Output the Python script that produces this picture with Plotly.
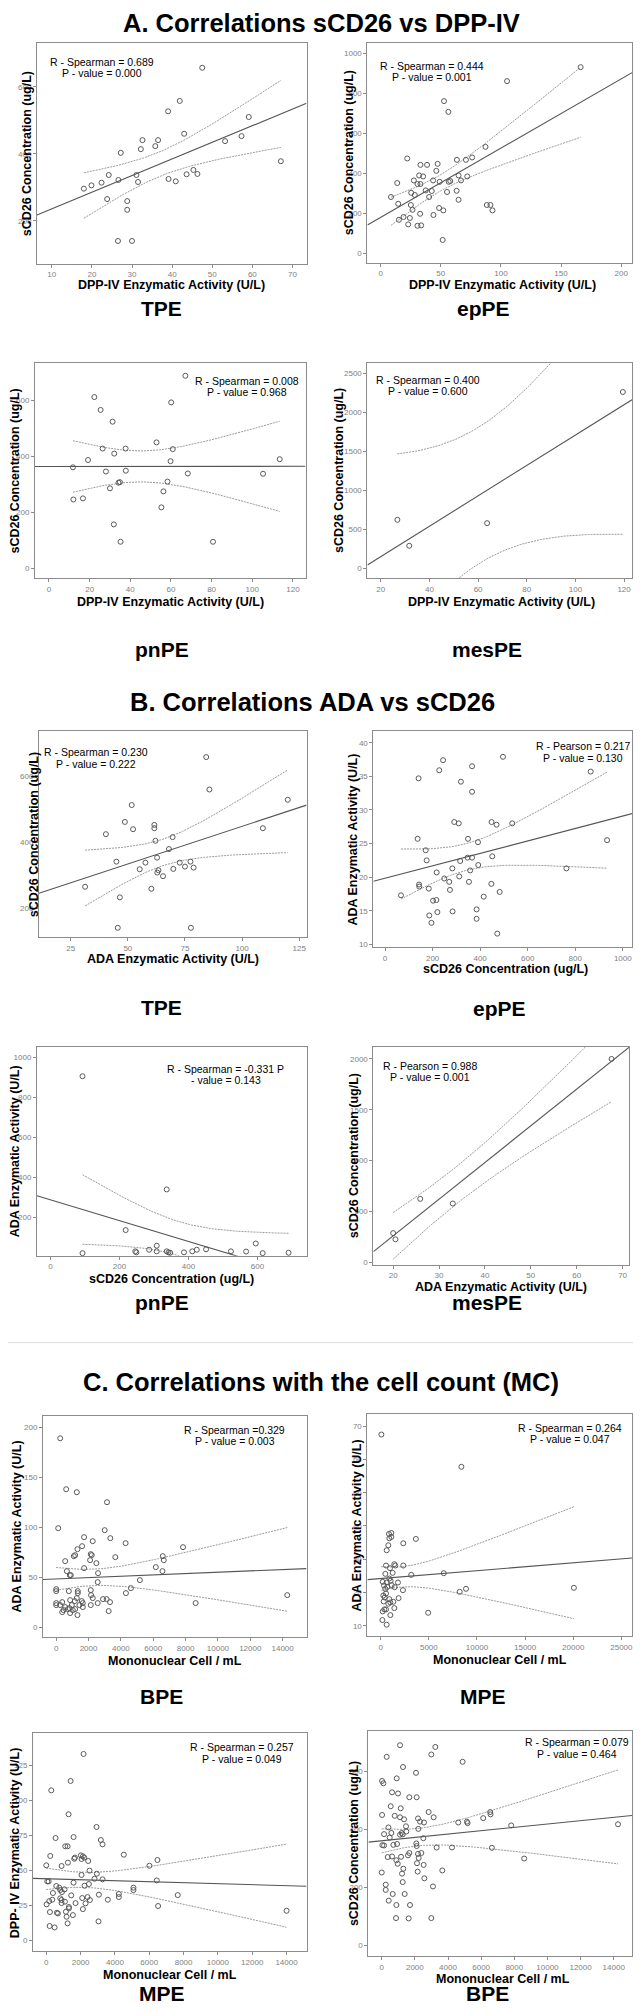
import math
import numpy as np
import plotly.graph_objects as go

PAGE_W, PAGE_H = 642, 2016     # page size in pixels
MARGIN = 8                     # default body margin of the html page
W, H = PAGE_W - 2 * MARGIN, PAGE_H - 2 * MARGIN   # figure size (no scrollbars)
RIGHT_MAX = 633                # last drawable page column

# ---------------- DATA ----------------
# A. sCD26 vs DPP-IV
tpe_dpp = [47.5, 41.9, 39.0, 59.1, 43.0, 53.2, 57.3, 32.6, 36.5, 32.2, 35.8, 27.2, 67.1, 24.2, 31.1,
           26.6, 31.5, 39.1, 40.9, 43.6, 45.3, 46.3, 18.0, 19.9, 22.4, 23.8, 28.8, 28.8, 26.5, 30.0]
tpe_scd26 = [657, 558, 527, 510, 460, 438, 453, 441, 441, 414, 423, 403, 378, 337, 337,
             322, 316, 325, 318, 339, 352, 340, 296, 306, 314, 265, 259, 233, 140, 140]

eppe_dpp = [166.3, 105.1, 52.7, 56.3, 87.2, 22.1, 63.4, 70.9, 76.1, 33.1, 38.6, 47.4, 46.3, 32.0, 35.3,
            72.0, 64.8, 27.6, 13.8, 43.6, 30.6, 33.1, 49.1, 56.6, 57.9, 66.8, 37.5, 42.5, 55.2, 63.2,
            8.6, 25.4, 28.4, 40.3, 64.8, 14.6, 25.1, 26.5, 48.6, 52.1, 32.8, 43.9, 88.3, 91.3, 93.0,
            19.0, 24.3, 15.2, 22.9, 30.6, 33.7, 51.6]
eppe_scd26 = [932, 862, 762, 708, 533, 475, 468, 468, 480, 443, 443, 448, 413, 390, 385,
              385, 390, 365, 352, 365, 347, 347, 358, 358, 362, 365, 315, 312, 307, 313,
              282, 303, 292, 282, 268, 248, 242, 218, 227, 215, 198, 192, 242, 242, 215,
              182, 177, 168, 145, 138, 140, 67]

pnpe_dpp = [67.1, 22.3, 25.4, 60.1, 31.3, 52.9, 26.4, 37.7, 60.9, 32.1, 19.2, 59.8, 113.5, 11.8, 28.0,
            37.8, 68.3, 105.3, 34.2, 34.9, 58.3, 30.0, 56.3, 12.0, 16.7, 55.3, 31.9, 35.2, 80.7]
pnpe_scd26 = [688, 612, 566, 593, 524, 450, 428, 428, 426, 410, 387, 383, 390, 361, 346,
              349, 339, 338, 306, 308, 310, 286, 275, 246, 250, 218, 157, 95, 95]

mespe_dpp = [26.8, 31.7, 63.7, 119.5]
mespe_scd26 = [623, 290, 580, 2261]

# B. ADA vs sCD26
tpe_ada = [84.3, 85.7, 120.0, 51.7, 48.7, 52.3, 61.6, 61.6, 40.4, 69.6, 109.1, 62.1, 68.0, 62.8, 45.0,
           57.7, 72.7, 77.4, 75.0, 78.8, 55.2, 69.9, 63.4, 62.9, 65.4, 31.3, 60.3, 46.5, 45.6, 77.6]
tpe_scd26_b = [657, 559, 528, 512, 461, 439, 452, 442, 424, 415, 442, 404, 379, 353, 341,
               338, 338, 341, 326, 323, 318, 319, 315, 308, 297, 265, 259, 233, 141, 141]

eppe_scd26_b = [496, 244, 228, 366, 141, 865, 319, 366, 291, 310, 448, 469, 535, 137, 349,
                391, 934, 171, 175, 347, 366, 316, 451, 392, 217, 283, 358, 312, 763, 249,
                270, 353, 143, 144, 184, 273, 447, 482, 67, 415, 202, 216, 220, 284, 385,
                186, 195, 385, 472]
eppe_ada = [37.9, 37.4, 35.9, 36.5, 34.7, 35.7, 34.2, 32.7, 28.2, 28.0, 28.2, 27.8, 28.0, 25.7, 25.7,
            25.2, 25.5, 24.0, 22.5, 22.9, 22.9, 22.4, 23.1, 21.8, 20.7, 21.3, 21.0, 20.1, 21.3, 19.8,
            19.3, 19.3, 18.9, 18.6, 18.3, 18.1, 19.0, 17.8, 17.3, 17.1, 16.5, 16.6, 14.8, 14.9, 15.2,
            14.3, 13.2, 13.8, 11.6]

pnpe_scd26_b = [93, 93, 337, 218, 308, 595, 246, 249, 286, 308, 337, 342, 347, 387, 411,
                424, 451, 523, 567, 615, 690]
pnpe_ada = [905, 22, 340, 137, 59, 70, 31, 26, 39, 31, 31, 26, 24, 26, 31,
            39, 41, 31, 30, 22, 24]

mespe_ada = [20.0, 20.5, 25.9, 33.0, 67.6]
mespe_scd26_b = [288, 227, 625, 579, 2000]

# C. Correlations with the mononuclear cell count
bpe_mc_ada = [246, 616, 1273, 123, 3141, 2997, 3346, 1724, 2258, 4291, 7842, 1601, 1314, 6590, 6652,
              2135, 2197, 1170, 1088, 3654, 2094, 554, 2484, 1724, 6159, 6570, 657, 2587, 903, 841,
              5174, 2566, 4619, 0, 0, 780, 1334, 1334, 2135, 4311, 14289, 2155, 2258, 2895, 3121,
              3326, 2566, 370, 862, 1273, 1581, 1642, 8622, 0, 0, 246, 554, 965, 1150, 1437,
              2135, 1642, 719, 821, 1027, 1170, 370, 862, 1314, 3244, 452]
bpe_ada = [189, 138, 135, 99, 125, 97, 89, 90, 86, 84, 80, 81, 78, 71, 67,
           73, 72, 72, 71, 70, 67, 66, 64, 59, 60, 56, 56, 54, 52, 52,
           47, 45, 39, 38, 36, 36, 36, 34, 37, 34, 32, 32, 29, 28, 28,
           25, 24, 25, 27, 29, 26, 24, 24, 24, 22, 22, 20, 22, 26, 22,
           22, 20, 18, 19, 17, 18, 15, 14, 12, 16, 17]

mpe_mc_ada = [69, 8379, 862, 1103, 1103, 897, 3655, 2345, 793, 621, 1414, 1517, 2345, 552, 966,
              1241, 483, 6552, 3172, 897, 1034, 207, 621, 1793, 1138, 690, 1448, 8862, 20069, 8207,
              2310, 552, 276, 414, 897, 1862, 1310, 793, 1000, 310, 1414, 379, 552, 207, 4931,
              1000, 172, 621, 345, 483]
mpe_ada = [67.5, 57.8, 37.6, 37.9, 36.7, 36.3, 36.1, 34.8, 34.2, 32.7, 28.5, 28.1, 28.1, 28.1, 27.3,
           25.9, 25.6, 25.8, 25.3, 24.2, 23.5, 23.2, 23.0, 23.0, 22.2, 21.7, 21.6, 21.1, 21.4, 20.2,
           20.7, 19.7, 19.1, 18.5, 18.0, 18.3, 17.2, 16.6, 17.0, 17.3, 15.3, 14.9, 14.9, 14.3, 13.9,
           13.2, 11.7, 10.3, 22.1, 21.1]

mpe_mc_dpp = [2172, 1416, 291, 1299, 2928, 543, 1590, 3180, 3277, 1105, 1241, 233, 4518, 2017, 2133,
              1668, 1629, 2055, 2211, 6477, 1260, 2443, 0, 6011, 892, 2521, 2947, 2055, 2812, 3277,
              6438, 58, 136, 1590, 2482, 2230, 582, 756, 5080, 1066, 814, 5080, 911, 388, 1454,
              7659, 3064, 4227, 4227, 2405, 3587, 2094, 2540, 814, 892, 349, 1086, 1706, 2288, 19,
              175, 892, 1319, 1319, 2133, 6515, 213, 621, 679, 1144, 1551, 1183, 14000, 3044, 1241,
              194, 485]
mpe_dpp = [133.3, 114.0, 107.3, 90.2, 81.1, 73.2, 73.9, 71.8, 68.7, 67.3, 67.3, 60.4, 61.3, 60.8, 60.1,
           59.2, 58.4, 58.2, 59.2, 57.5, 55.6, 56.8, 53.7, 53.4, 53.2, 49.9, 47.7, 46.8, 44.1, 43.7,
           42.9, 42.2, 42.2, 41.3, 40.3, 39.1, 38.9, 37.7, 37.7, 36.5, 36.0, 36.0, 34.6, 33.9, 32.2,
           32.4, 32.7, 33.2, 31.0, 31.0, 29.1, 30.3, 28.9, 30.1, 28.9, 29.1, 27.7, 26.7, 26.5, 25.8,
           28.1, 26.7, 23.9, 22.9, 22.4, 24.6, 20.3, 19.8, 19.3, 20.5, 18.1, 16.9, 21.2, 13.6, 12.2,
           10.3, 9.3]

bpe_mc_scd26 = [1105, 3234, 301, 2993, 4881, 1285, 20, 100, 2069, 904, 623, 984, 1667, 2109, 542,
                1145, 20, 783, 1105, 1346, 2832, 3133, 2310, 2551, 2189, 4619, 5141, 5182, 6126, 6547,
                6567, 1466, 7813, 14260, 402, 2209, 582, 1265, 1205, 141, 1486, 482, 2511, 40, 141,
                703, 924, 1105, 2089, 2109, 3314, 4238, 6648, 362, 623, 1165, 1667, 1587, 2189, 2390,
                2229, 884, 964, 2129, 2531, 8596, 1305, 3655, 2169, 2571, 1225, 1265, 0, 241, 241,
                663, 422, 3093, 1386, 1707, 884, 864, 1627, 2993]
bpe_scd26 = [689, 683, 649, 657, 632, 614, 566, 558, 594, 575, 527, 523, 510, 510, 479,
             472, 449, 446, 441, 434, 459, 441, 426, 423, 437, 423, 426, 421, 438, 459,
             451, 410, 413, 417, 406, 401, 387, 382, 387, 383, 392, 371, 369, 345, 344,
             346, 349, 381, 351, 342, 337, 337, 336, 304, 306, 305, 318, 310, 315, 318,
             301, 293, 281, 283, 277, 299, 264, 258, 254, 231, 247, 218, 251, 209, 191,
             177, 154, 203, 177, 139, 139, 94, 93, 94]

# ---------------- PANEL SETUP (page pixel positions) ----------------
LBL_DPP = "DPP-IV Enzymatic Activity (U/L)"
LBL_SCD = "sCD26 Concentration (ug/L)"
LBL_ADA = "ADA Enzymatic Activity (U/L)"
LBL_MC = "Mononuclear Cell / mL"

panels = [
    dict(x=tpe_dpp, y=tpe_scd26, box=(37, 307, 43, 264), xr=(6.3, 73.5), yr=(72, 731),
         xt=list(range(10, 71, 10)), yt=[200, 400, 600], xtitle=LBL_DPP, ytitle=LBL_SCD,
         ytx=27, xty=285, stat=("R - Spearman = 0.689", "P - value = 0.000"), sp=(102, 62)),
    dict(x=eppe_dpp, y=eppe_scd26, box=(368, 639, 43, 263), xr=(-11, 214), yr=(-47, 1053),
         xt=list(range(0, 201, 50)), yt=list(range(0, 1001, 200)), xtitle=LBL_DPP, ytitle=LBL_SCD,
         ytx=349, xty=285, stat=("R - Spearman = 0.444", "P - value = 0.001"), sp=(433, 66)),
    dict(x=pnpe_dpp, y=pnpe_scd26, box=(35, 306, 363, 579), xr=(-6.9, 126.2), yr=(-36, 735),
         xt=list(range(0, 121, 20)), yt=list(range(0, 601, 200)), xtitle=LBL_DPP, ytitle=LBL_SCD,
         ytx=15, xty=603, stat=("R - Spearman = 0.008", "P - value = 0.968"), sp=(247, 381)),
    dict(x=mespe_dpp, y=mespe_scd26, box=(368, 636, 363, 579), xr=(14.5, 124.5), yr=(-128, 2637),
         xt=list(range(20, 121, 20)), yt=list(range(0, 2501, 500)), xtitle=LBL_DPP, ytitle=LBL_SCD,
         ytx=339, xty=603, stat=("R - Spearman = 0.400", "P - value = 0.600"), sp=(429, 380)),
    dict(x=tpe_ada, y=tpe_scd26_b, box=(39, 307, 732, 938), xr=(11.1, 128.2), yr=(113, 735),
         xt=[25, 50, 75, 100, 125], yt=[200, 400, 600], xtitle=LBL_ADA, ytitle=LBL_SCD,
         ytx=34, xty=960, stat=("R - Spearman = 0.230", "P - value = 0.222"), sp=(96, 753)),
    dict(x=eppe_scd26_b, y=eppe_ada, box=(374, 639, 732, 948), xr=(-49, 1064), yr=(9.6, 41.7),
         xt=list(range(0, 1001, 200)), yt=list(range(10, 41, 5)), xtitle=LBL_SCD, ytitle=LBL_ADA,
         ytx=354, xty=970, stat=("R - Pearson = 0.217", "P - value = 0.130"), sp=(584, 747)),
    dict(x=pnpe_scd26_b, y=pnpe_ada, box=(37, 307, 1048, 1257), xr=(-39, 742), yr=(9, 1051),
         xt=list(range(0, 601, 200)), yt=list(range(0, 1001, 200)), xtitle=LBL_SCD, ytitle=LBL_ADA,
         ytx=15, xty=1280, stat=("R - Spearman = -0.331 P", "- value = 0.143"), sp=(226, 1070)),
    dict(x=mespe_ada, y=mespe_scd26_b, box=(374, 630, 1048, 1266), xr=(15.7, 71.4), yr=(-23, 2118),
         xt=list(range(20, 71, 10)), yt=list(range(0, 2001, 500)), xtitle=LBL_ADA, ytitle=LBL_SCD,
         ytx=354, xty=1288, stat=("R - Pearson = 0.988", "P - value = 0.001"), sp=(431, 1067)),
    dict(x=bpe_mc_ada, y=bpe_ada, box=(43, 307, 1417, 1639), xr=(-821, 15479), yr=(-10.3, 211.7),
         xt=list(range(0, 14001, 2000)), yt=list(range(0, 201, 50)), xtitle=LBL_MC, ytitle=LBL_ADA,
         ytx=17, xty=1663, stat=("R - Spearman =0.329", "P - value = 0.003"), sp=(235, 1431)),
    dict(x=mpe_mc_ada, y=mpe_ada, box=(368, 634, 1415, 1638), xr=(-1379, 26207), yr=(6.8, 73.8),
         xt=list(range(0, 25001, 5000)), yt=list(range(10, 71, 10)), xtitle=LBL_MC, ytitle=LBL_ADA,
         ytx=358, xty=1662, stat=("R - Spearman = 0.264", "P - value = 0.047"), sp=(571, 1429)),
    dict(x=mpe_mc_dpp, y=mpe_dpp, box=(33, 307, 1735, 1953), xr=(-776, 15164), yr=(-7.6, 148.1),
         xt=list(range(0, 14001, 2000)), yt=list(range(0, 126, 25)), xtitle=LBL_MC,
         ytitle="DPP- IV Enzymatic Activity (U/L)",
         ytx=15, xty=1977, stat=("R - Spearman = 0.257", "P - value = 0.049"), sp=(242, 1749)),
    dict(x=bpe_mc_scd26, y=bpe_scd26, box=(369, 639, 1733, 1958), xr=(-803, 15466), yr=(-36.6, 737),
         xt=list(range(0, 14001, 2000)), yt=list(range(0, 601, 200)), xtitle=LBL_MC, ytitle=LBL_SCD,
         ytx=354, xty=1981, stat=("R - Spearman = 0.079", "P - value = 0.464"), sp=(578, 1744)),
]

group_labels = [("TPE", 162, 309), ("epPE", 484, 309), ("pnPE", 162, 650), ("mesPE", 488, 650),
                ("TPE", 162, 1008), ("epPE", 500, 1010), ("pnPE", 162, 1304), ("mesPE", 488, 1304),
                ("BPE", 162, 1698), ("MPE", 484, 1698), ("MPE", 162, 1995), ("BPE", 488, 1995)]

# (text, centre x, y, anchor) - the first title sits at the top edge of the figure
section_titles = [("A. Correlations sCD26 vs DPP-IV", 322, 8, "top"),
                  ("B. Correlations ADA vs sCD26", 313, 703, "middle"),
                  ("C. Correlations with the cell count (MC)", 321, 1383, "middle")]


def fx(px):
    return (px - MARGIN) / W


def fy(py):
    return 1 - (py - MARGIN) / H


def t_ppf975(df):
    c = math.exp(math.lgamma((df + 1) / 2) - math.lgamma(df / 2)) / math.sqrt(df * math.pi)
    ts = np.linspace(0, 80, 400001)
    pdf = c * (1 + ts ** 2 / df) ** (-(df + 1) / 2)
    cdf = np.concatenate([[0], np.cumsum((pdf[1:] + pdf[:-1]) / 2 * np.diff(ts))])
    return float(np.interp(0.475, cdf, ts))


FONT = "Liberation Sans, Arial, sans-serif"
fig = go.Figure()
annotations = []
layout_axes = {}

for i, p in enumerate(panels, start=1):
    xs = np.asarray(p["x"], float)
    ys = np.asarray(p["y"], float)
    n = len(xs)
    slope, icpt = np.polyfit(xs, ys, 1)
    xm = xs.mean()
    sxx = ((xs - xm) ** 2).sum()
    s = math.sqrt(((ys - (icpt + slope * xs)) ** 2).sum() / (n - 2))
    tq = t_ppf975(n - 2)
    gx = np.linspace(xs.min(), xs.max(), 80)
    half = tq * s * np.sqrt(1.0 / n + (gx - xm) ** 2 / sxx)

    l, r, t, b = p["box"]
    x0, x1 = p["xr"]
    r_draw = min(r, RIGHT_MAX)
    x1_draw = x0 + (r_draw - l) * (x1 - x0) / (r - l)   # keep scale, trim what cannot be shown
    ex = np.array([x0, x1_draw])
    xa = "x" if i == 1 else f"x{i}"
    ya = "y" if i == 1 else f"y{i}"

    fig.add_trace(go.Scatter(x=ex, y=icpt + slope * ex, mode="lines", xaxis=xa, yaxis=ya,
                             line=dict(color="#555555", width=1.1), showlegend=False, hoverinfo="skip"))
    for sign in (1, -1):
        fig.add_trace(go.Scatter(x=gx, y=icpt + slope * gx + sign * half, mode="lines", xaxis=xa,
                                 yaxis=ya, line=dict(color="#9a9a9a", width=1, dash="2px,1px"),
                                 showlegend=False, hoverinfo="skip"))
    fig.add_trace(go.Scatter(x=xs, y=ys, mode="markers", xaxis=xa, yaxis=ya,
                             marker=dict(symbol="circle-open", size=5, color="#5a5a5a",
                                         line=dict(width=1, color="#5a5a5a")),
                             showlegend=False, cliponaxis=False))

    axcommon = dict(showline=True, mirror=True, linecolor="#8c8c8c", linewidth=1, ticks="outside",
                    ticklen=3, tickcolor="#8c8c8c", tickfont=dict(size=8, color="#808080", family=FONT),
                    showgrid=False, zeroline=False, fixedrange=True, tickformat="d",
                    ticklabeloverflow="allow")
    kx = "xaxis" if i == 1 else f"xaxis{i}"
    ky = "yaxis" if i == 1 else f"yaxis{i}"
    layout_axes[kx] = dict(domain=[fx(l), fx(r_draw)], range=[x0, x1_draw], tickvals=p["xt"],
                           anchor=ya, **axcommon)
    layout_axes[ky] = dict(domain=[fy(b), fy(t)], range=list(p["yr"]), tickvals=p["yt"],
                           anchor=xa, **axcommon)

    annotations.append(dict(text=f"<b>{p['xtitle']}</b>", x=fx((l + r) / 2), y=fy(p["xty"]),
                            xref="paper", yref="paper", showarrow=False, xanchor="center",
                            yanchor="middle", font=dict(size=12.5, color="black", family=FONT)))
    annotations.append(dict(text=f"<b>{p['ytitle']}</b>", x=fx(p["ytx"]), y=fy((t + b) / 2),
                            xref="paper", yref="paper", showarrow=False, textangle=-90,
                            xanchor="center", yanchor="middle",
                            font=dict(size=12.5, color="black", family=FONT)))
    sx, sy = p["sp"]
    for k, line in enumerate(p["stat"]):
        annotations.append(dict(text=line, x=fx(sx), y=fy(sy + 11.5 * k), xref="paper",
                                yref="paper", showarrow=False, xanchor="center", yanchor="middle",
                                font=dict(size=10.5, color="black", family=FONT)))

for txt, x, y in group_labels:
    annotations.append(dict(text=f"<b>{txt}</b>", x=fx(x), y=fy(y), xref="paper", yref="paper",
                            showarrow=False, xanchor="center", yanchor="middle",
                            font=dict(size=21, color="black", family=FONT)))
for txt, x, y, anc in section_titles:
    annotations.append(dict(text=f"<b>{txt}</b>", x=fx(x), y=fy(y), xref="paper", yref="paper",
                            showarrow=False, xanchor="center", yanchor=anc, borderpad=0,
                            font=dict(size=25.5, color="black", family=FONT)))

fig.update_layout(width=W, height=H, margin=dict(l=0, r=0, t=0, b=0), paper_bgcolor="white",
                  plot_bgcolor="white", annotations=annotations, showlegend=False,
                  shapes=[dict(type="line", xref="paper", yref="paper", x0=0, x1=1,
                               y0=fy(1344), y1=fy(1344), line=dict(color="#dddddd", width=1))],
                  **layout_axes)

fig.write_html("out.html")
